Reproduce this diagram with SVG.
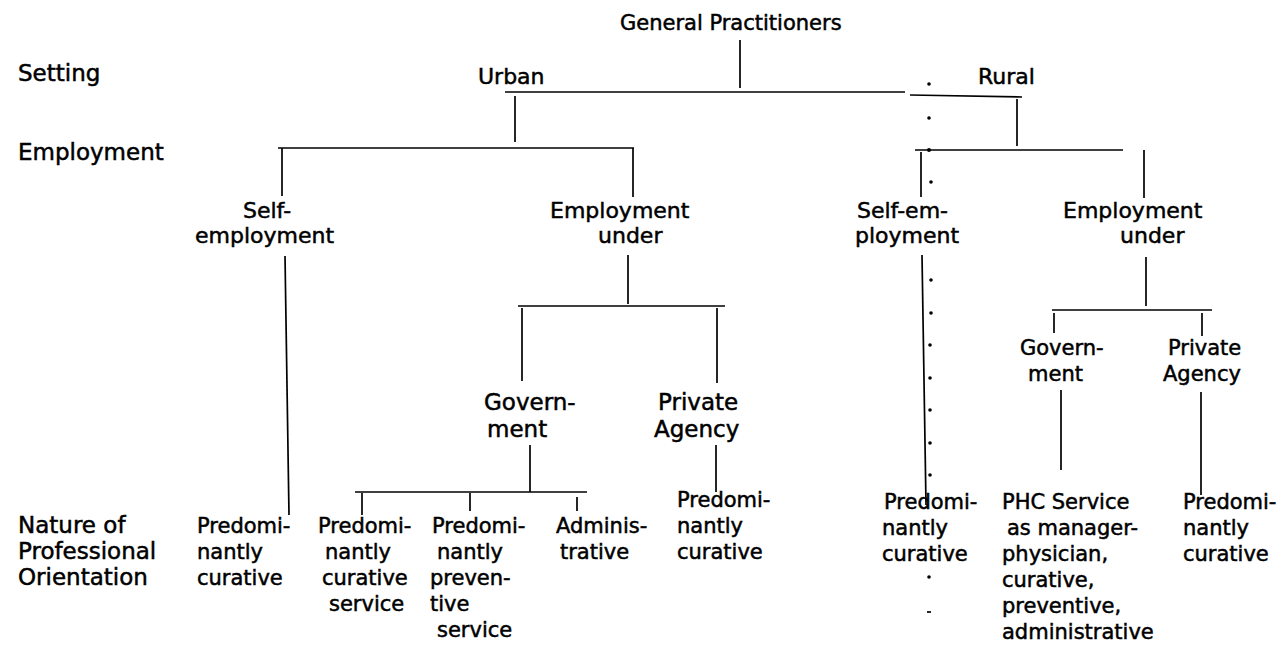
<svg xmlns="http://www.w3.org/2000/svg" width="1288" height="655" viewBox="0 0 1288 655">
<style>
text{font-family:"DejaVu Sans","Liberation Sans",Arial,sans-serif;font-size:21px;fill:#000;stroke:#000;stroke-width:0.5}
.lvl{font-size:23px}
.m{font-size:22px}
.g{font-size:23px}
.ln{fill:none;stroke:#000;stroke-width:1.7;stroke-linecap:butt}
.dot{fill:#000}
</style>
<rect width="1288" height="655" fill="#fff"/>
<g id="levels">
<text class="lvl" x="18" y="81">Setting</text>
<text class="lvl" x="18" y="160">Employment</text>
<text class="lvl" x="18" y="533">Nature of</text>
<text class="lvl" x="18" y="559">Professional</text>
<text class="lvl" x="18" y="585">Orientation</text>
</g>
<g id="connectors">
<path class="ln" d="M740 40V88"/>
<path class="ln" d="M505 92H905"/>
<path class="ln" d="M910 95L1022 97"/>
<path class="ln" d="M515 96V142"/>
<path class="ln" d="M1017 99V146"/>
<path class="ln" d="M278 148H634"/>
<path class="ln" d="M282 148V196"/>
<path class="ln" d="M633 148V197"/>
<path class="ln" d="M285 256L289 515"/>
<path class="ln" d="M628 255V304"/>
<path class="ln" d="M518 306H725"/>
<path class="ln" d="M522 308V381"/>
<path class="ln" d="M717 308V383"/>
<path class="ln" d="M530 445V492"/>
<path class="ln" d="M716 445V492"/>
<path class="ln" d="M355 492H587"/>
<path class="ln" d="M362 493V515"/>
<path class="ln" d="M470 493V511"/>
<path class="ln" d="M577 497V511"/>
<path class="ln" d="M915 150H1123"/>
<path class="ln" d="M921 152V197"/>
<path class="ln" d="M922 255L926 505"/>
<path class="ln" d="M1144 150V198"/>
<path class="ln" d="M1146 257V306"/>
<path class="ln" d="M1052 310H1212"/>
<path class="ln" d="M1054 313V333"/>
<path class="ln" d="M1202 313V336"/>
<path class="ln" d="M1061 390V470"/>
<path class="ln" d="M1201 392V495"/>
<g id="dots">
<circle class="dot" cx="929" cy="84" r="1.8"/>
<circle class="dot" cx="929" cy="118" r="1.8"/>
<circle class="dot" cx="929" cy="150" r="2"/>
<circle class="dot" cx="931" cy="182" r="1.8"/>
<circle class="dot" cx="931" cy="280" r="1.8"/>
<circle class="dot" cx="931" cy="313" r="1.8"/>
<circle class="dot" cx="930" cy="345" r="1.8"/>
<circle class="dot" cx="930" cy="378" r="1.8"/>
<circle class="dot" cx="930" cy="410" r="1.8"/>
<circle class="dot" cx="930" cy="443" r="1.8"/>
<circle class="dot" cx="930" cy="475" r="1.8"/>
<circle class="dot" cx="929" cy="577" r="1.8"/>
<path class="ln" d="M927 612H931"/>
</g>
</g>
<g id="n-gp"><text x="620" y="30">General Practitioners</text></g>
<g id="n-urban"><text class="m" x="478" y="84">Urban</text></g>
<g id="n-rural"><text class="m" x="978" y="84">Rural</text></g>
<g id="n-u-self"><text class="m" x="243" y="218">Self-</text><text class="m" x="195" y="243">employment</text></g>
<g id="n-u-emp"><text class="m" x="550" y="218">Employment</text><text class="m" x="598" y="243">under</text></g>
<g id="n-r-self"><text class="m" x="857" y="218">Self-em-</text><text class="m" x="855" y="243">ployment</text></g>
<g id="n-r-emp"><text class="m" x="1063" y="218">Employment</text><text class="m" x="1120" y="243">under</text></g>
<g id="n-u-gov"><text class="g" x="484" y="410">Govern-</text><text class="g" x="487" y="437">ment</text></g>
<g id="n-u-priv"><text class="g" x="658" y="410">Private</text><text class="g" x="654" y="437">Agency</text></g>
<g id="n-r-gov"><text x="1020" y="355">Govern-</text><text x="1028" y="381">ment</text></g>
<g id="n-r-priv"><text x="1168" y="355">Private</text><text x="1163" y="381">Agency</text></g>
<g id="n-u-self-cur"><text x="197" y="533">Predomi-</text><text x="197" y="559">nantly</text><text x="197" y="585">curative</text></g>
<g id="n-u-gov-cur"><text x="318" y="533">Predomi-</text><text x="325" y="559">nantly</text><text x="322" y="585">curative</text><text x="329" y="611">service</text></g>
<g id="n-u-gov-prev"><text x="432" y="533">Predomi-</text><text x="437" y="559">nantly</text><text x="430" y="585">preven-</text><text x="430" y="611">tive</text><text x="437" y="637">service</text></g>
<g id="n-u-gov-adm"><text x="556" y="533">Adminis-</text><text x="560" y="559">trative</text></g>
<g id="n-u-priv-cur"><text x="677" y="507">Predomi-</text><text x="677" y="533">nantly</text><text x="677" y="559">curative</text></g>
<g id="n-r-self-cur"><text x="884" y="509">Predomi-</text><text x="882" y="535">nantly</text><text x="882" y="561">curative</text></g>
<g id="n-r-gov-phc"><text x="1002" y="509">PHC Service</text><text x="1007" y="535">as manager-</text><text x="1002" y="561">physician,</text><text x="1002" y="587">curative,</text><text x="1002" y="613">preventive,</text><text x="1002" y="639">administrative</text></g>
<g id="n-r-priv-cur"><text x="1183" y="509">Predomi-</text><text x="1183" y="535">nantly</text><text x="1183" y="561">curative</text></g>
</svg>
